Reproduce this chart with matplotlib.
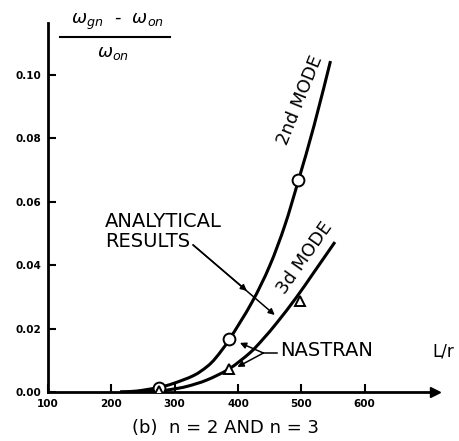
"""
Frequency shift vs L/r for the 2nd and 3d modes (n = 2 and n = 3):
analytical curves with NASTRAN points, redrawn from a scanned figure.
"""

import matplotlib

matplotlib.use("Agg")
import matplotlib.pyplot as plt
from matplotlib.lines import Line2D
from matplotlib.patches import PathPatch
from matplotlib.path import Path

INK = "black"

# analytical curves
mode2_lr = [214, 240, 274, 298, 330, 351, 365, 386, 422, 450, 474, 495, 520, 546]
mode2_df = [0.0, 0.0003, 0.0014, 0.0027, 0.0052, 0.0080, 0.0108, 0.0165, 0.0283,
            0.0398, 0.0526, 0.0665, 0.0840, 0.1044]
mode3_lr = [214, 240, 274, 297, 320, 351, 386, 419, 440, 462, 492, 520, 553]
mode3_df = [0.0, 0.0001, 0.0003, 0.0009, 0.0018, 0.0038, 0.0073, 0.0124, 0.0168,
            0.0220, 0.0298, 0.0378, 0.0473]

# NASTRAN points
nastran2_lr = [276, 386, 495]
nastran2_df = [0.0014, 0.0168, 0.0669]
nastran3_lr = [276, 386, 498]
nastran3_df = [0.0002, 0.0073, 0.0287]

xticks = [100, 200, 300, 400, 500, 600]
yticks = [0.00, 0.02, 0.04, 0.06, 0.08, 0.10]


def px(x, y):
    """pixel position in the 459x441 picture -> figure fraction"""
    return x / 459, 1 - y / 441


def smooth_path(xs, ys):
    """Catmull-Rom through the read points, as cubic Bezier segments."""
    pts = list(zip(xs, ys))
    verts, codes = [pts[0]], [Path.MOVETO]
    for i in range(len(pts) - 1):
        p0 = pts[max(i - 1, 0)]
        p1, p2 = pts[i], pts[i + 1]
        p3 = pts[min(i + 2, len(pts) - 1)]
        c1 = (p1[0] + (p2[0] - p0[0]) / 6, p1[1] + (p2[1] - p0[1]) / 6)
        c2 = (p2[0] - (p3[0] - p1[0]) / 6, p2[1] - (p3[1] - p1[1]) / 6)
        verts += [c1, c2, p2]
        codes += [Path.CURVE4] * 3
    return Path(verts, codes)


fig = plt.figure(figsize=(4.59, 4.41), dpi=100)
ax = fig.add_axes([48 / 459, 49 / 441, 387 / 459, 369 / 441])

for xs, ys in ((mode2_lr, mode2_df), (mode3_lr, mode3_df)):
    ax.add_patch(PathPatch(smooth_path(xs, ys), fill=False, ec=INK, lw=2.2, zorder=2))
ax.plot(nastran2_lr, nastran2_df, "o", ms=8.5, mfc="white", mec=INK, mew=1.4, zorder=3)
ax.plot(nastran3_lr, nastran3_df, "^", ms=7.5, mfc="white", mec=INK, mew=1.4, zorder=3)

ax.set_xlim(100, 711)
ax.set_ylim(0, 0.1164)
for s in ("top", "right"):
    ax.spines[s].set_visible(False)
for s in ("left", "bottom"):
    ax.spines[s].set_linewidth(2.0)

# axis arrow heads
ax.plot(1, 0, ">", color=INK, ms=7, transform=ax.get_yaxis_transform(), clip_on=False)
ax.plot(0, 1, "^", color=INK, ms=7, transform=ax.get_xaxis_transform(), clip_on=False)

ax.set_xticks(xticks, [str(v) for v in xticks])
ax.set_yticks(yticks, [f"{v:.2f}" for v in yticks])
ax.tick_params(direction="in", length=6, width=1.5, labelsize=7.5, pad=5)
for lab in ax.get_xticklabels() + ax.get_yticklabels():
    lab.set_fontweight("bold")

# curve labels
ax.text(498, 0.0921, "2nd MODE", rotation=68, ha="center", va="center", fontsize=13)
ax.text(506, 0.0423, "3d MODE", rotation=55, ha="center", va="center", fontsize=13)

# analytical results leaders (one straight line, two heads)
arrow = dict(arrowstyle="-|>", color=INK, lw=1.1, mutation_scale=9, shrinkA=0, shrinkB=0)
ax.text(190, 0.0568, "ANALYTICAL\nRESULTS", ha="left", va="top", fontsize=14,
        linespacing=1.1)
ax.annotate("", xy=(458, 0.0243), xytext=(329, 0.0464), arrowprops=arrow)
ax.annotate("", xy=(414, 0.0319), xytext=(329, 0.0464), arrowprops=arrow)

# NASTRAN leaders
ax.text(466, 0.0130, "NASTRAN", ha="left", va="center", fontsize=14)
ax.plot([440, 462], [0.0123, 0.0123], color=INK, lw=1.1)
ax.annotate("", xy=(403, 0.0155), xytext=(440, 0.0123), arrowprops=arrow)
ax.annotate("", xy=(399, 0.0079), xytext=(440, 0.0123), arrowprops=arrow)

# y label as a stacked fraction
fig.text(*px(117, 22), r"$\omega_{gn}$  -  $\omega_{on}$", ha="center", va="center",
         fontsize=13)
fig.add_artist(Line2D([60 / 459, 170 / 459], [1 - 37 / 441] * 2, color=INK, lw=1.5))
fig.text(*px(113, 53), r"$\omega_{on}$", ha="center", va="center", fontsize=13)

fig.text(*px(432, 352), "L/r", ha="left", va="center", fontsize=12)
fig.text(*px(225, 428), "(b)  n = 2 AND n = 3", ha="center", va="center", fontsize=13)

fig.savefig("out.png", dpi=100)
